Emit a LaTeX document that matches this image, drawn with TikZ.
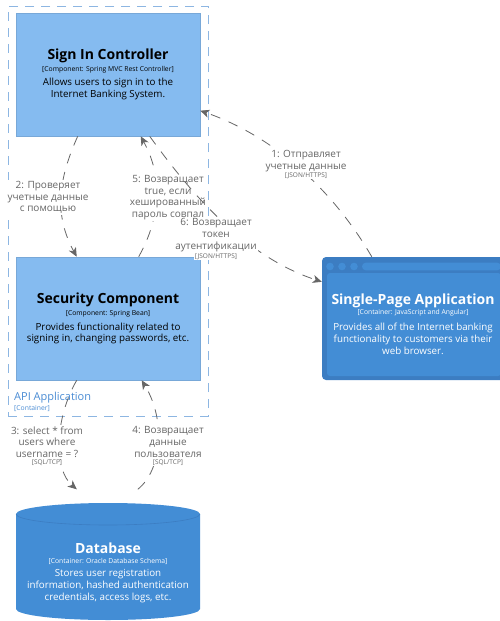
\documentclass[tikz,border=0pt]{standalone}
\usepackage{fontspec}
\setmainfont{Open Sans}
\usetikzlibrary{arrows.meta,calc}
\definecolor{compfill}{HTML}{85BBF0}
\definecolor{compline}{HTML}{78A8D8}
\definecolor{contfill}{HTML}{438DD5}
\definecolor{contline}{HTML}{3C7DC2}
\definecolor{bndline}{HTML}{8DB6E2}
\definecolor{bndtext}{HTML}{4A8CD4}
\definecolor{lblgray}{HTML}{666666}
\tikzset{
  compbox/.style={draw=compline, fill=compfill, line width=0.6pt, inner sep=0pt},
  ttl/.style={font=\fontsize{14}{17}\selectfont\bfseries, inner sep=0pt},
  stereo/.style={font=\fontsize{6.8}{8}\selectfont, inner sep=0pt},
  desc/.style={font=\fontsize{9.8}{11.8}\selectfont, align=center, inner sep=0pt},
  lbl/.style={font=\fontsize{10}{11.7}\selectfont, align=center, text=lblgray, inner sep=1pt},
  tech/.style={font=\fontsize{6.5}{8}\selectfont, text=lblgray, inner sep=0.5pt},
  rel/.style={draw=lblgray, line width=0.8pt, dash pattern=on 10pt off 9pt, -{Stealth[length=9pt,width=8pt,inset=2.5pt]}},
}
\begin{document}
\begin{tikzpicture}[x=1pt,y=-1pt]
\useasboundingbox[fill=white] (0,0) rectangle (500,621);

% boundary
\node[draw=bndline, line width=0.8pt, dash pattern=on 9pt off 7pt, minimum width=200pt, minimum height=410pt, inner sep=0pt] (bnd) at (108,211) {};
\node[anchor=west, font=\fontsize{11}{13}\selectfont, text=bndtext, inner sep=0pt] (bndname) at (14,398) {API Application};
\node[anchor=west, font=\fontsize{6.8}{8}\selectfont, text=bndtext, inner sep=0pt] (bndtype) at (14,409) {[Container]};

% Sign In Controller
\node[compbox, minimum width=184pt, minimum height=123pt] (sic) at (108,74.5) {};
\node[ttl] (sict) at (108,56) {Sign In Controller};
\node[stereo] (sics) at (108,70) {[Component: Spring MVC Rest Controller]};
\node[desc] (sicd) at (108,89) {Allows users to sign in to the\\Internet Banking System.};

% Security Component
\node[compbox, minimum width=184pt, minimum height=123pt] (sec) at (108,318.5) {};
\node[ttl] (sect) at (108,300) {Security Component};
\node[stereo] (secs) at (108,314) {[Component: Spring Bean]};
\node[desc] (secd) at (108,333.5) {Provides functionality related to\\signing in, changing passwords, etc.};

% Single-Page Application (browser shape)
\node[fill=contline, rounded corners=4pt, minimum width=184pt, minimum height=123pt, inner sep=0pt] (spa) at (414,318.5) {};
\fill[contfill, rounded corners=3pt] (327,273) rectangle (501,376);
\fill[contfill] (330,266.5) circle (3.8);
\fill[contfill] (342,266.5) circle (3.8);
\fill[contfill] (354,266.5) circle (3.8);
\fill[contfill, rounded corners=3.8pt] (362,262.7) rectangle (501,270.3);
\node[ttl, text=white] (spat) at (413,301) {Single-Page Application};
\node[stereo, text=white] (spas) at (413,313) {[Container: JavaScript and Angular]};
\node[desc, text=white] (spad) at (413,339) {Provides all of the Internet banking\\functionality to customers via their\\web browser.};

% Database cylinder
\coordinate (dbc) at (108,514);
\fill[contfill] (16,514) -- (16,609)
  .. controls (16,615.1) and (57.2,620) .. (108,620)
  .. controls (158.8,620) and (200,615.1) .. (200,609)
  -- (200,514)
  .. controls (200,507.9) and (158.8,503) .. (108,503)
  .. controls (57.2,503) and (16,507.9) .. (16,514) -- cycle;
\draw[contline, line width=0.6pt] (16,514) .. controls (16,520.1) and (57.2,525) .. (108,525)
  .. controls (158.8,525) and (200,520.1) .. (200,514);
\node[minimum width=184pt, minimum height=117pt, inner sep=0pt] (db) at (108,561.5) {};
\node[ttl, text=white] (dbt) at (108,548) {Database};
\node[stereo, text=white] (dbs) at (108,561) {[Container: Oracle Database Schema]};
\node[desc, text=white] (dbd) at (108,586) {Stores user registration\\information, hashed authentication\\credentials, access logs, etc.};

% connectors 1-5
\draw[rel] ($(spa.north west)+(50,0)$) .. controls (330,185) and (270,135) .. ($(sic.north east)+(0,98)$);
\draw[rel] ($(sic.south west)+(62,0)$) .. controls (58,180) and (54,215) .. ($(sec.north west)+(61,0)$);
\draw[rel] ($(sec.north west)+(123,0)$) .. controls (162,215) and (162,175) .. ($(sic.south west)+(125,0)$);
\draw[rel] ($(sec.south west)+(61,0)$) .. controls (54,420) and (54,470) .. ($(db.north west)+(61,-13.5)$);
\draw[rel] ($(db.north west)+(122,-13.5)$) .. controls (162,470) and (166,420) .. ($(sec.south west)+(126,0)$);

% labels 1-5
\node[lbl, fill=white] (l1) at (306,161) {1: Отправляет\\учетные данные};
\node[tech, fill=white] (l1t) at (306,176) {[JSON/HTTPS]};
\node[lbl, fill=white] (l2) at (48,197.5) {2: Проверяет\\учетные данные\\с помощью};
\node[lbl, fill=white] (l5) at (168,197.5) {5: Возвращает\\true, если\\хешированный\\пароль совпал};
\node[lbl, fill=white] (l3) at (47,442) {3: select * from\\users where\\username = ?};
\node[tech, fill=white] (l3t) at (47,463) {[SQL/TCP]};
\node[lbl, fill=white] (l4) at (168,442) {4: Возвращает\\данные\\пользователя};
\node[tech, fill=white] (l4t) at (168,463) {[SQL/TCP]};

% connector 6 and its label
\draw[rel] ($(sic.south west)+(134,0)$) .. controls (185,185) and (240,255) .. ($(spa.north west)+(0,25)$);
\node[lbl, fill=white] (l6) at (216,235) {6: Возвращает\\токен\\аутентификации};
\node[tech, fill=white] (l6t) at (216,257) {[JSON/HTTPS]};
\end{tikzpicture}
\end{document}
